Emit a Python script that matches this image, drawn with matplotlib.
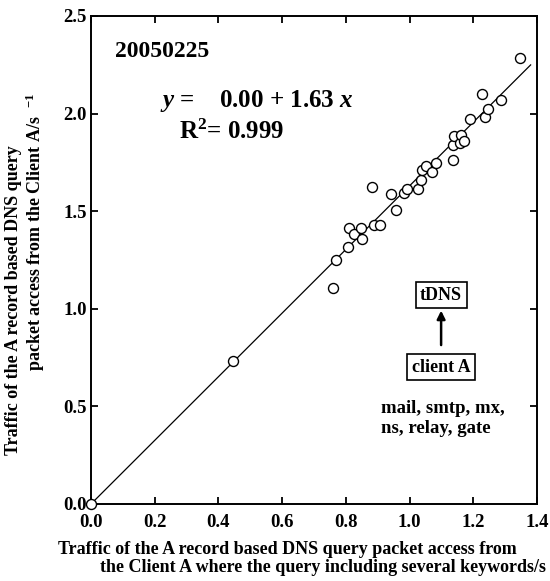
import matplotlib
matplotlib.use("Agg")
import matplotlib.pyplot as plt
import numpy as np

# traffic from client A (x) vs A-record DNS query traffic (y), 20050225
x_vals = [0.0, 0.446, 0.760, 0.769, 0.806, 0.811, 0.826, 0.846, 0.852, 0.882,
          0.888, 0.907, 0.941, 0.958, 0.982, 0.991, 1.025, 1.035, 1.039, 1.051,
          1.070, 1.082, 1.135, 1.137, 1.138, 1.158, 1.161, 1.172, 1.190, 1.227,
          1.238, 1.247, 1.287, 1.347]
y_vals = [0.0, 0.733, 1.108, 1.248, 1.318, 1.414, 1.381, 1.416, 1.358, 1.622,
          1.429, 1.429, 1.590, 1.506, 1.592, 1.616, 1.614, 1.660, 1.711, 1.732,
          1.703, 1.749, 1.839, 1.761, 1.885, 1.851, 1.889, 1.858, 1.971, 2.100,
          1.983, 2.025, 2.070, 2.285]

intercept = 0.00
slope = 1.63
r2 = 0.999
date_label = "20050225"

x_ticks = [0.0, 0.2, 0.4, 0.6, 0.8, 1.0, 1.2, 1.4]
y_ticks = [0.0, 0.5, 1.0, 1.5, 2.0, 2.5]

plt.rcParams['font.family'] = ['Liberation Serif', 'DejaVu Serif']
plt.rcParams['font.weight'] = 'bold'
plt.rcParams['mathtext.fontset'] = 'custom'
plt.rcParams['mathtext.rm'] = 'Liberation Serif:bold'
plt.rcParams['mathtext.it'] = 'Liberation Serif:italic:bold'
plt.rcParams['mathtext.bf'] = 'Liberation Serif:bold'

W, H = 550, 581
fig = plt.figure(figsize=(5.5, 5.81), dpi=100)
ax = fig.add_axes([91 / W, 1 - 504 / H, 446 / W, 488 / H])

ax.plot(x_vals, y_vals, 'o', mfc='white', mec='black', ms=7.2, mew=1.0,
        zorder=3, clip_on=False)
xl = np.array([0.0, 1.38])
ax.plot(xl, intercept + slope * xl, color='black', lw=0.9, zorder=2)

ax.set_xlim(0, 1.4)
ax.set_ylim(0, 2.5)
ax.set_xticks(x_ticks)
ax.set_yticks(y_ticks)
ax.set_xticklabels([f"{t:.1f}" for t in x_ticks])
ax.set_yticklabels([f"{t:.1f}" for t in y_ticks])
ax.tick_params(direction='in', length=5, width=1.3, top=True, right=True,
               labelsize=13.5)
ax.tick_params(axis='x', pad=7)
ax.tick_params(axis='y', pad=3)
for s in ax.spines.values():
    s.set_linewidth(1.4)

# annotations
ax.text(0.075, 2.316, date_label, fontsize=17, fontweight='bold',
        ha='left', va='center')
ax.text(0.217, 2.065, f"$y$ =    {intercept:.2f} + {slope:.2f} $x$",
        fontsize=18, ha='left', va='center')
ax.text(0.276, 1.906, f"R$^2$= {r2:.3f}", fontsize=18, ha='left', va='center')

bbox = dict(boxstyle='square,pad=0.25', fc='white', ec='black', lw=1.2)
ax.text(1.099, 1.07, "tDNS", fontsize=13, ha='center', va='center', bbox=bbox)
ax.text(1.099, 0.70, "client A", fontsize=13, ha='center', va='center',
        bbox=bbox)
ax.annotate("", xy=(1.099, 1.005), xytext=(1.099, 0.80),
            arrowprops=dict(arrowstyle='-|>', color='black', lw=1.8,
                            mutation_scale=12))
ax.text(0.910, 0.49, "mail, smtp, mx,", fontsize=13.5, ha='left', va='center')
ax.text(0.910, 0.385, "ns, relay, gate", fontsize=13.5, ha='left', va='center')

# axis labels
fig.text(287 / W, 1 - 550 / H,
         "Traffic of the A record based DNS query packet access from",
         fontsize=13, ha='center', va='center')
fig.text(100 / W, 1 - 568 / H,
         "the Client A where the query including several keywords/s",
         fontsize=13, ha='left', va='center')
fig.text(14 / W, 1 - 300 / H, "Traffic of the A record based DNS query",
         fontsize=13, ha='center', va='center', rotation=90)
fig.text(35 / W, 1 - 232 / H, "packet access from the Client A/s  $^{-1}$",
         fontsize=13, ha='center', va='center', rotation=90)

fig.savefig("out.png", dpi=100)
